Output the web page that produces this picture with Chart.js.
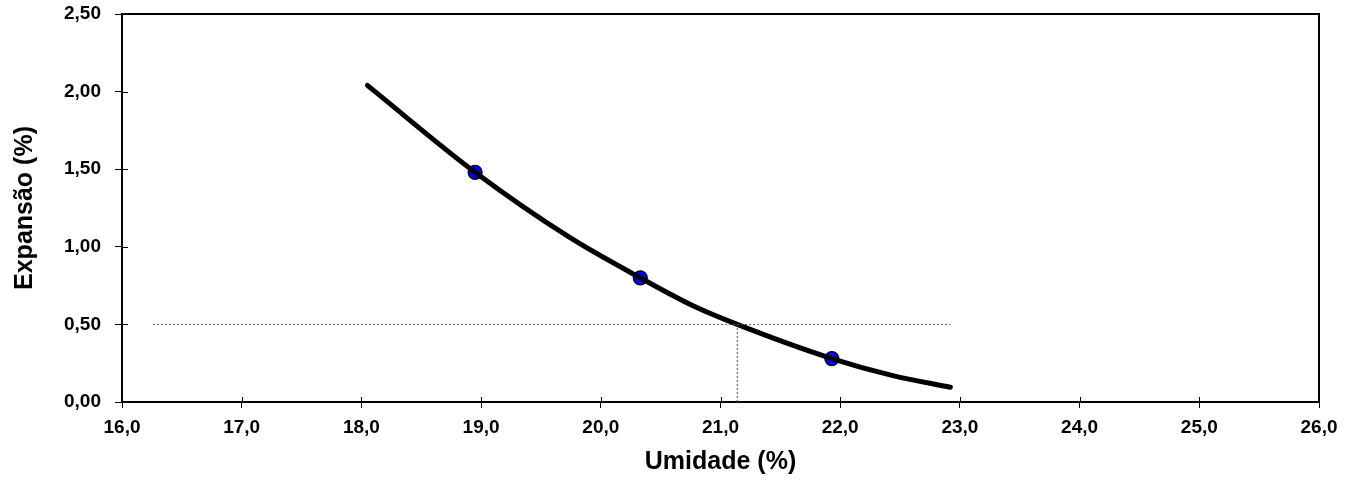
<!DOCTYPE html>
<html>
<head>
<meta charset="utf-8">
<script src="https://cdn.jsdelivr.net/npm/chart.js@4"></script>
<style>
  body { margin: 0; background: #fff; }
  #myChart { display: block; }
</style>
</head>
<body>
<canvas id="myChart" width="1360" height="482"></canvas>
<script>
// measured points
const umidade = [18.95, 20.33, 21.93];
const expansao = [1.48, 0.80, 0.28];

// fitted curve
const curveX = [18.05, 18.95, 19.74, 20.33, 20.77, 21.14, 21.93, 22.44, 22.92];
const curveY = [2.04, 1.48, 1.06, 0.80, 0.62, 0.50, 0.28, 0.17, 0.095];

// guide lines at 0,50 %
const guideHX = [16.26, 22.92];
const guideHY = [0.50, 0.50];
const guideVX = [21.14, 21.14];
const guideVY = [0.00, 0.50];

const xTitle = 'Umidade (%)';
const yTitle = 'Expansão (%)';

function toPts(xs, ys) {
    let out = [];
    for (let i = 0; i < xs.length; i++) {
        out.push({x: xs[i], y: ys[i]});
    }
    return out;
}

const tickFont = {family: 'Liberation Sans', size: 19, weight: 'bold'};
const titleFont = {family: 'Liberation Sans', size: 25, weight: 'bold'};

// box round the plot and tick marks crossing into it
const framePlugin = {
    id: 'frame',
    afterDatasetsDraw(chart) {
        const ctx = chart.ctx;
        const a = chart.chartArea;
        const xs = chart.scales.x;
        const ys = chart.scales.y;
        ctx.save();
        ctx.strokeStyle = '#000';
        ctx.lineWidth = 2;
        ctx.beginPath();
        ctx.moveTo(a.left, a.top);
        ctx.lineTo(a.right, a.top);
        ctx.lineTo(a.right, a.bottom);
        ctx.stroke();
        ctx.lineWidth = 1;
        ctx.beginPath();
        xs.ticks.forEach(t => {
            let px = Math.round(xs.getPixelForValue(t.value)) + 0.5;
            ctx.moveTo(px, a.bottom);
            ctx.lineTo(px, a.bottom - 5);
        });
        ys.ticks.forEach(t => {
            let py = Math.round(ys.getPixelForValue(t.value)) + 0.5;
            ctx.moveTo(a.left, py);
            ctx.lineTo(a.left + 6, py);
        });
        ctx.stroke();
        ctx.restore();
    }
};

const data = {
    datasets: [
        {
            label: 'guiaH',
            data: toPts(guideHX, guideHY),
            showLine: true,
            borderColor: '#555',
            borderWidth: 1,
            borderDash: [2, 2],
            pointRadius: 0
        },
        {
            label: 'guiaV',
            data: toPts(guideVX, guideVY),
            showLine: true,
            borderColor: '#555',
            borderWidth: 1,
            borderDash: [2, 2],
            pointRadius: 0
        },
        {
            label: 'curva',
            data: toPts(curveX, curveY),
            showLine: true,
            borderColor: '#000',
            borderWidth: 5,
            borderCapStyle: 'round',
            cubicInterpolationMode: 'monotone',
            pointRadius: 0
        },
        {
            label: 'ensaios',
            data: toPts(umidade, expansao),
            showLine: false,
            pointRadius: 7,
            pointBackgroundColor: '#0000ff',
            pointBorderColor: '#000',
            pointBorderWidth: 1.2
        }
    ]
};

const config = {
    type: 'scatter',
    data: data,
    options: {
        responsive: false,
        animation: false,
        layout: {padding: {top: 14, right: 41, bottom: 0, left: 0}},
        plugins: {
            legend: {display: false},
            tooltip: {enabled: false}
        },
        scales: {
            x: {
                type: 'linear',
                min: 16,
                max: 26,
                afterFit: function (s) { s.height = 80; },
                ticks: {
                    stepSize: 1,
                    color: '#000',
                    font: tickFont,
                    padding: 8,
                    maxRotation: 0,
                    callback: v => v.toFixed(1).replace('.', ',')
                },
                grid: {drawOnChartArea: false, color: '#000', tickLength: 6, lineWidth: 1},
                border: {color: '#000', width: 2},
                title: {
                    display: true,
                    text: xTitle,
                    color: '#000',
                    font: titleFont,
                    padding: {top: 0, bottom: 5}
                }
            },
            y: {
                type: 'linear',
                min: 0,
                max: 2.5,
                afterFit: function (s) {
                    s.width = 122;
                    s.paddingTop = 0;
                    s.paddingBottom = 0;
                },
                ticks: {
                    stepSize: 0.5,
                    color: '#000',
                    font: tickFont,
                    padding: 14,
                    callback: v => v.toFixed(2).replace('.', ',')
                },
                grid: {drawOnChartArea: false, color: '#000', tickLength: 7, lineWidth: 1},
                border: {color: '#000', width: 2},
                title: {
                    display: true,
                    text: yTitle,
                    color: '#000',
                    font: titleFont,
                    padding: {top: 10, bottom: 0}
                }
            }
        }
    },
    plugins: [framePlugin]
};

const myChart = new Chart(
    document.getElementById('myChart'),
    config
);
</script>
</body>
</html>
